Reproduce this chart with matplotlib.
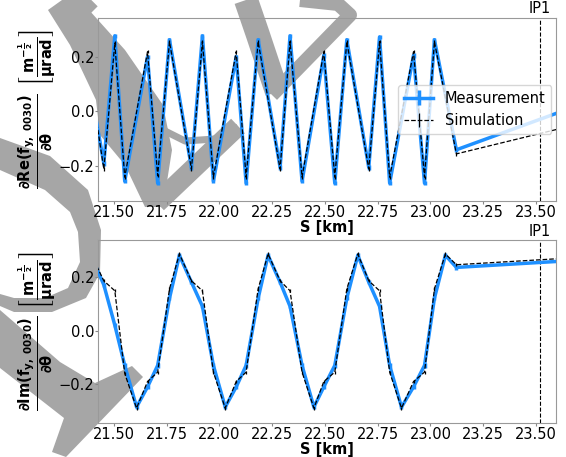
import matplotlib
matplotlib.use("Agg")
import matplotlib.pyplot as plt
from matplotlib.lines import Line2D
from matplotlib.patches import Polygon
from matplotlib.transforms import Affine2D

# BPM positions [km] and the d/dtheta of the RDT, real part
s_re = [21.392, 21.453, 21.505, 21.552, 21.660, 21.708, 21.764, 21.868, 21.920,
        21.972, 22.080, 22.127, 22.184, 22.288, 22.335, 22.392, 22.495, 22.547,
        22.604, 22.708, 22.759, 22.807, 22.920, 22.972, 23.019, 23.123, 23.660]
re_meas = [0.08, -0.19, 0.276, -0.255, 0.20, -0.262, 0.262, -0.205, 0.276,
           -0.255, 0.20, -0.262, 0.262, -0.205, 0.276, -0.255, 0.205, -0.262,
           0.262, -0.205, 0.272, -0.262, 0.205, -0.262, 0.262, -0.14, 0.011]
re_sim = [0.10, -0.21, 0.25, -0.24, 0.218, -0.235, 0.255, -0.21, 0.255,
          -0.24, 0.218, -0.24, 0.255, -0.21, 0.255, -0.24, 0.218, -0.24,
          0.255, -0.21, 0.255, -0.24, 0.218, -0.24, 0.255, -0.155, -0.054]

# imaginary part
s_im = [21.392, 21.453, 21.505, 21.552, 21.608, 21.660, 21.708, 21.764, 21.811,
        21.868, 21.920, 21.972, 22.028, 22.080, 22.127, 22.184, 22.231, 22.288,
        22.335, 22.392, 22.448, 22.495, 22.547, 22.604, 22.656, 22.708, 22.759,
        22.807, 22.863, 22.920, 22.972, 23.019, 23.071, 23.123, 23.660]
im_meas = [0.28, 0.17, 0.02, -0.13, -0.285, -0.21, -0.13, 0.12, 0.28,
           0.18, 0.09, -0.13, -0.285, -0.21, -0.13, 0.12, 0.28, 0.18,
           0.09, -0.13, -0.285, -0.21, -0.13, 0.12, 0.28, 0.18, 0.09,
           -0.13, -0.285, -0.21, -0.13, 0.12, 0.28, 0.235, 0.26]
im_sim = [0.285, 0.185, 0.148, -0.16, -0.289, -0.19, -0.155, 0.155, 0.285,
          0.185, 0.148, -0.155, -0.289, -0.19, -0.155, 0.155, 0.285, 0.185,
          0.148, -0.155, -0.289, -0.19, -0.155, 0.155, 0.285, 0.185, 0.148,
          -0.155, -0.289, -0.19, -0.155, 0.155, 0.285, 0.245, 0.27]

err_meas = 0.008
err_sim = 0.006
ip1 = 23.52

ylabels = [r'$\mathbf{\frac{\partial Re(f_{y,\ 0030})}{\partial\theta}\ \left[\frac{m^{-\frac{1}{2}}}{\mu rad}\right]}$',
           r'$\mathbf{\frac{\partial Im(f_{y,\ 0030})}{\partial\theta}\ \left[\frac{m^{-\frac{1}{2}}}{\mu rad}\right]}$']

# grey background mark, pixel coords with y pointing down
wm_shapes = [
    [(48, 10), (62, 0), (80, 0), (125, 50), (163, 105), (172, 150), (163, 207),
     (145, 207), (125, 165), (100, 135), (96, 100), (70, 45)],
    [(0, 138), (50, 156), (88, 190), (101, 230), (100, 273), (86, 298), (52, 312),
     (14, 312), (0, 306), (0, 294), (14, 298), (45, 298), (68, 288), (80, 262),
     (78, 232), (70, 212), (45, 190), (0, 170)],
    [(0, 310), (60, 362), (95, 383), (132, 366), (143, 377), (66, 457), (52, 452),
     (64, 418), (0, 368)],
]
wm_strokes = [
    ([(157, 203), (238, 126)], 20),
    ([(238, 127), (215, 139), (185, 141), (165, 131)], 7),
    ([(246, 0), (258, 35), (268, 65), (277, 92)], 24),
    ([(272, 95), (350, 15), (338, 4), (300, 0)], 14),
    ([(80, 0), (92, 12)], 16),
]

W, H = 566, 457
fig, axes = plt.subplots(2, 1, figsize=(W / 100, H / 100), dpi=100)
fig.subplots_adjust(left=0.173, right=0.982, top=0.961, bottom=0.074, hspace=0.213)

px = Affine2D().scale(1 / W, -1 / H).translate(0, 1) + fig.transFigure
grey = '#a6a6a6'
for pts in wm_shapes:
    fig.add_artist(Polygon(pts, closed=True, transform=px, facecolor=grey,
                           edgecolor='none', zorder=-5))
for pts, w in wm_strokes:
    xs, ys = zip(*pts)
    fig.add_artist(Line2D(xs, ys, transform=px, lw=w * 0.72, color=grey,
                          solid_capstyle='butt', solid_joinstyle='round', zorder=-5))

data = [(s_re, re_meas, re_sim), (s_im, im_meas, im_sim)]
ylims = [(-0.327, 0.342), (-0.345, 0.337)]

for i, ax in enumerate(axes):
    s, meas, sim = data[i]
    ax.set_facecolor('none')
    ax.errorbar(s, meas, yerr=err_meas, color='dodgerblue', lw=2.5, elinewidth=2.5,
                label='Measurement', zorder=3)
    ax.errorbar(s, sim, yerr=err_sim, color='k', ls='--', lw=0.9, elinewidth=0.9,
                label='Simulation', zorder=4)
    ax.axvline(ip1, color='k', ls='--', lw=0.8)
    ax.text(ip1, 1.008, 'IP1', transform=ax.get_xaxis_transform(), ha='center',
            va='bottom', fontsize=10.5)
    ax.set_xlim(21.425, 23.594)
    ax.set_ylim(*ylims[i])
    ax.set_xticks([21.5, 21.75, 22.0, 22.25, 22.5, 22.75, 23.0, 23.25, 23.5])
    ax.set_yticks([-0.2, 0.0, 0.2])
    ax.tick_params(labelsize=10.5, length=2, pad=0.8, color='#888888')
    for sp in ax.spines.values():
        sp.set_color('#999999')
    ax.set_xlabel('S [km]', fontsize=10.5, fontweight='bold', labelpad=0)
    ax.set_ylabel(ylabels[i], fontsize=15)
    ax.yaxis.set_label_coords(-0.087, 0.5)

axes[0].legend(loc='center right', fontsize=10.5, borderaxespad=0.3)

fig.savefig('out.png', dpi=100)
